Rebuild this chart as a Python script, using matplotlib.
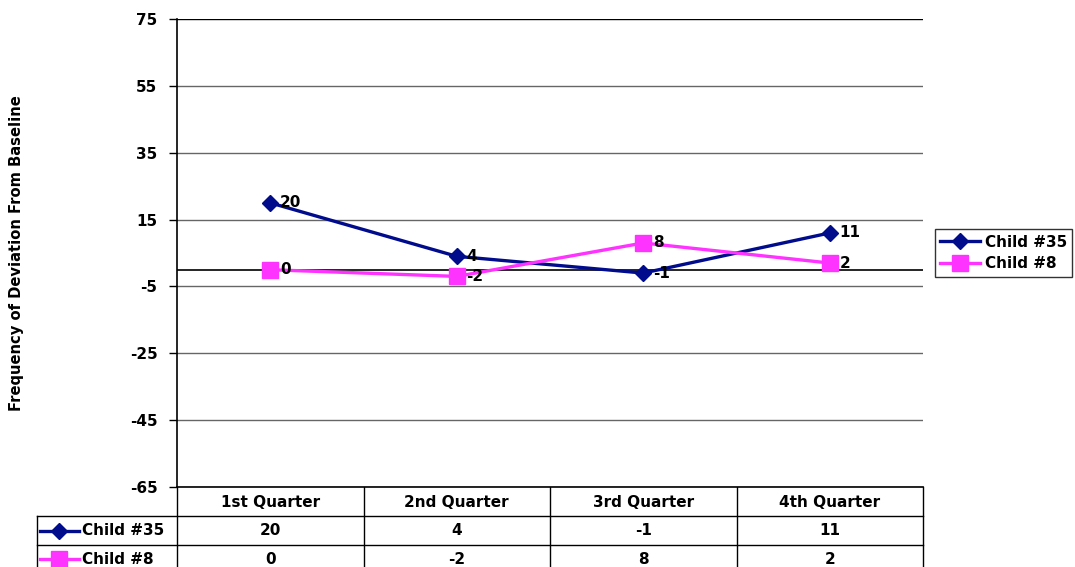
import matplotlib
matplotlib.use("Agg")
import matplotlib.pyplot as plt
from matplotlib.lines import Line2D

categories = ["1st Quarter", "2nd Quarter", "3rd Quarter", "4th Quarter"]
child35 = [20, 4, -1, 11]
child8 = [0, -2, 8, 2]
series_names = ["Child #35", "Child #8"]
yticks = [75, 55, 35, 15, -5, -25, -45, -65]
ylabel = "Frequency of Deviation From Baseline"

NAVY = "#000C8C"
MAG = "#FF33FF"
plt.rcParams["font.family"] = ["DejaVu Sans"]
plt.rcParams["font.weight"] = "bold"

W, H = 1075, 567
fig = plt.figure(figsize=(W / 100, H / 100), dpi=100)

L, R, T, B = 177, 923, 19, 487
ax = fig.add_axes([L / W, 1 - B / H, (R - L) / W, (B - T) / H])
ax.set_xlim(-0.5, len(categories) - 0.5)
ax.set_ylim(-65, 75)
ax.set_yticks(yticks)
ax.set_yticklabels([str(v) for v in yticks], fontsize=11, fontweight="bold")
ax.set_xticks([])
ax.tick_params(axis="y", length=6, width=1, pad=8, direction="out")
for s in ["top", "right"]:
    ax.spines[s].set_visible(False)
ax.spines["left"].set_linewidth(1.2)
ax.spines["bottom"].set_linewidth(1.2)
for v in yticks:
    ax.axhline(v, color="#000000" if v in (75,) else "#666666", lw=1, zorder=0)
ax.axhline(0, color="black", lw=1.2, zorder=1)

x = list(range(len(categories)))
ax.plot(x, child35, color=NAVY, lw=2.4, marker="D", markersize=8, zorder=3, label=series_names[0])
ax.plot(x, child8, color=MAG, lw=2.4, marker="s", markersize=11, zorder=3, label=series_names[1])
for xi, v in zip(x, child35):
    ax.annotate(str(v), (xi, v), xytext=(7, 0), textcoords="offset points",
                va="center", ha="left", fontsize=11, fontweight="bold")
for xi, v in zip(x, child8):
    ax.annotate(str(v), (xi, v), xytext=(7, 0), textcoords="offset points",
                va="center", ha="left", fontsize=11, fontweight="bold")

fig.text(17 / W, 1 - 253 / H, ylabel, rotation=90, ha="center", va="center",
         fontsize=10.6, fontweight="bold")

# legend
handles = [Line2D([], [], color=NAVY, lw=2.4, marker="D", markersize=8),
           Line2D([], [], color=MAG, lw=2.4, marker="s", markersize=11)]
leg = fig.legend(handles, series_names, loc="center left",
                 bbox_to_anchor=(935 / W, 1 - 253 / H), frameon=True, fancybox=False,
                 edgecolor="black", fontsize=11, handlelength=2.6, handletextpad=0.3,
                 borderpad=0.35, labelspacing=0.45, borderaxespad=0)
leg.get_frame().set_linewidth(1)
for t in leg.get_texts():
    t.set_fontweight("bold")

# data table overlay
ov = fig.add_axes([0, 0, 1, 1], zorder=-1)
ov.set_xlim(0, W)
ov.set_ylim(H, 0)
ov.axis("off")
cols = [L + (R - L) * i / len(categories) for i in range(len(categories) + 1)]
rows = [B, 516, 545, 574]
lc = "#000000"
for cx in cols:
    ov.plot([cx, cx], [B, H], color=lc, lw=1)
ov.plot([37, 37], [rows[1], H], color=lc, lw=1)
for ry in rows[1:3]:
    ov.plot([37, R], [ry, ry], color=lc, lw=1)
for i, c in enumerate(categories):
    cx = (cols[i] + cols[i + 1]) / 2
    ov.text(cx, (rows[0] + rows[1]) / 2 + 1, c, ha="center", va="center", fontsize=11, fontweight="bold")
for r, (vals, name, col, mk, ms) in enumerate([(child35, series_names[0], NAVY, "D", 8),
                                               (child8, series_names[1], MAG, "s", 11)]):
    cy = (rows[r + 1] + rows[r + 2]) / 2
    if r == 1:
        cy = 559
    ov.plot([40, 79], [cy, cy], color=col, lw=2.4)
    ov.plot([59], [cy], color=col, marker=mk, markersize=ms)
    ov.text(82, cy, name, ha="left", va="center", fontsize=11, fontweight="bold")
    for i, v in enumerate(vals):
        cx = (cols[i] + cols[i + 1]) / 2
        ov.text(cx, cy, str(v), ha="center", va="center", fontsize=11, fontweight="bold")

fig.savefig("out.png", dpi=100)
